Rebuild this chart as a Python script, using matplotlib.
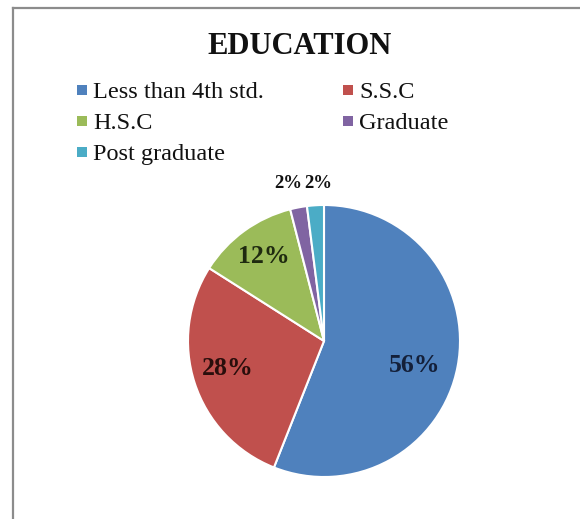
import matplotlib
matplotlib.use("Agg")
import matplotlib.pyplot as plt
from matplotlib.patches import Rectangle
from matplotlib.lines import Line2D

categories = ["Less than 4th std.", "S.S.C", "H.S.C", "Graduate", "Post graduate"]
shares = [56, 28, 12, 2, 2]
colors = ["#4F81BD", "#C0504D", "#9BBB59", "#8064A2", "#4BACC6"]
label_colors = ["#14203a", "#2a0e0c", "#1f2a10", "#111111", "#111111"]
# label positions (axes data units, pie radius = 1)
label_pos = [(0.67, -0.18), (-0.71, -0.20), (-0.44, 0.62), (-0.26, 1.16), (-0.04, 1.16)]
label_sizes = [18.5, 18.5, 18.5, 13.5, 13.5]

plt.rcParams["font.family"] = ["Liberation Serif", "DejaVu Serif"]

W, H = 580, 519
fig = plt.figure(figsize=(W / 100, H / 100), dpi=100)
fig.patch.set_facecolor("white")


def fx(px):
    return px / W


def fy(py):
    return 1 - py / H


# frame (top and left edges)
fig.add_artist(Line2D([fx(13), 1.0], [fy(8), fy(8)], transform=fig.transFigure,
                      color="#8c8c8c", lw=1.6))
fig.add_artist(Line2D([fx(13), fx(13)], [0.0, fy(8)], transform=fig.transFigure,
                      color="#8c8c8c", lw=1.6))

fig.text(fx(300), fy(46), "EDUCATION", ha="center", va="center",
         fontsize=22, fontweight="bold", color="#111111")

# pie
cx, cy, r = 324, 341, 136
ax = fig.add_axes([fx(cx - r), fy(cy + r), 2 * r / W, 2 * r / H])
wedges, texts, autotexts = ax.pie(
    shares, colors=colors, startangle=90, counterclock=False,
    autopct="%d%%", pctdistance=0.65,
    wedgeprops=dict(edgecolor="white", linewidth=1.5),
)
for t, pos, c, s in zip(autotexts, label_pos, label_colors, label_sizes):
    t.set_position(pos)
    t.set_fontsize(s)
    t.set_fontweight("bold")
    t.set_color(c)
    t.set_ha("center")
    t.set_va("center")
ax.set_xlim(-1.0, 1.0)
ax.set_ylim(-1.0, 1.0)
ax.set_aspect("equal")

# legend, two columns filled row by row
col_x = [77, 343]
row_y = [90, 121, 152]
box = 10
for i, (name, col) in enumerate(zip(categories, colors)):
    x0 = col_x[i % 2]
    y0 = row_y[i // 2]
    fig.add_artist(Rectangle((fx(x0), fy(y0 + box / 2)), box / W, box / H,
                             transform=fig.transFigure, facecolor=col, edgecolor="none"))
    fig.text(fx(x0 + 16), fy(y0), name, ha="left", va="center_baseline",
             fontsize=17.5, color="#111111")

fig.savefig("out.png", dpi=100, facecolor="white")
